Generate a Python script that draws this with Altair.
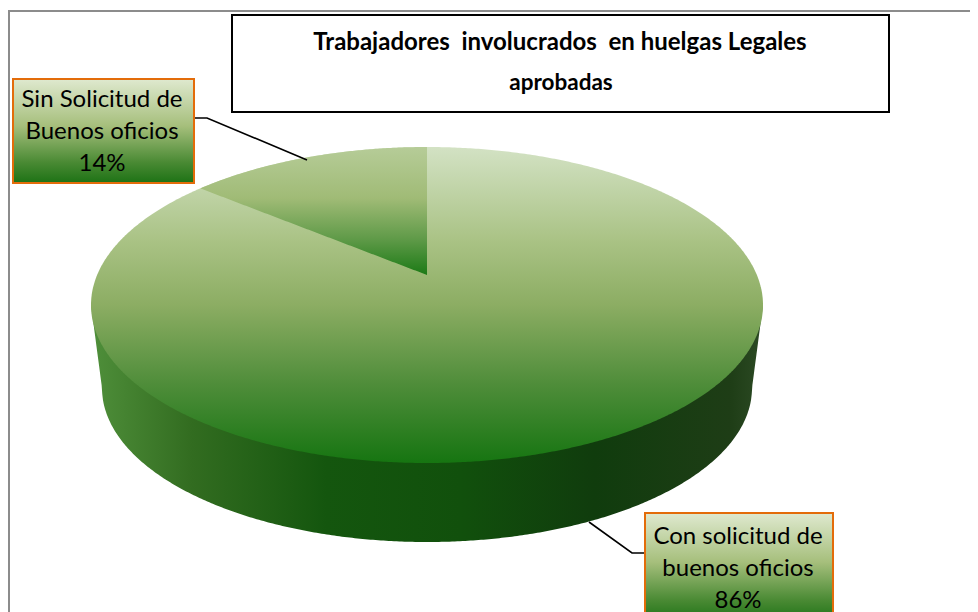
import numpy as np
import pandas as pd
import altair as alt

# Data
categories = ["Con solicitud de buenos oficios", "Sin Solicitud de Buenos oficios"]
shares = [86, 14]
title_line_1 = "Trabajadores\u00a0\u00a0involucrados\u00a0\u00a0en huelgas Legales"
title_line_2 = "aprobadas"
label_small = ["Sin Solicitud de", "Buenos oficios", "14%"]
label_big = ["Con solicitud de", "buenos oficios", "86%"]

# Pie geometry, in the scale's units
CX, CY, RX, RY = 427.0, 305.0, 336.0, 158.0
BOT_CY, BOT_RX, BOT_RY = 388.0, 325.0, 154.0
PERSP = 0.19

X = alt.X("x:Q", axis=None, scale=alt.Scale(domain=[8, 970], nice=False, zero=False))
Y = alt.Y("y:Q", axis=None, scale=alt.Scale(domain=[612, 8], nice=False, zero=False))


def grad(stops, horizontal=False):
    return alt.Gradient(
        gradient="linear",
        stops=[alt.GradientStop(offset=o, color=c) for o, c in stops],
        x1=0, y1=0, x2=1 if horizontal else 0, y2=0 if horizontal else 1,
    )


# Rim point of the small slice, from its share (circle seen in perspective)
a = 2 * np.pi * shares[1] / sum(shares)
ux, uy = -np.sin(a), np.cos(a)
den = 1 + PERSP * uy
rim_x = CX + RX * ux * np.sqrt(1 - PERSP**2) / den
rim_y = CY - RY * (uy + PERSP) / den
apex_y = CY - RY * PERSP

ts = np.linspace(np.pi, 0, 400)
xs = CX + RX * np.cos(ts)
root = np.sqrt(np.clip(1 - ((xs - CX) / RX) ** 2, 0, 1))
top_df = pd.DataFrame({"x": xs, "y": CY - RY * root, "y2": CY + RY * root})

# Side wall: lower ellipse joined to the top ellipse by short straight edges
bl, br = CX - BOT_RX, CX + BOT_RX
low = BOT_CY + BOT_RY * np.sqrt(np.clip(1 - ((xs - CX) / BOT_RX) ** 2, 0, 1))
low = np.where(xs < bl, CY + (xs - xs[0]) / (bl - xs[0]) * (BOT_CY - CY), low)
low = np.where(xs > br, CY + (xs[-1] - xs) / (xs[-1] - br) * (BOT_CY - CY), low)
wall_df = pd.DataFrame({"x": xs, "y": CY, "y2": low})

wx = np.linspace(rim_x, CX, 120)
wedge_df = pd.DataFrame({
    "x": wx,
    "y": CY - RY * np.sqrt(1 - ((wx - CX) / RX) ** 2),
    "y2": rim_y + (wx - rim_x) / (CX - rim_x) * (apex_y - rim_y),
})

wall = alt.Chart(wall_df).mark_area(color=grad([
    (0, "#4f8f3a"), (0.15, "#326c20"), (0.35, "#14560e"), (0.55, "#11500c"),
    (0.75, "#103c0d"), (0.95, "#1e3d16"), (1, "#2c4a24")], horizontal=True)
).encode(x=X, y=Y, y2="y2:Q")

top = alt.Chart(top_df).mark_area(color=grad([
    (0, "#d3e2c4"), (0.3, "#a9c284"), (0.5, "#8cad63"), (0.75, "#4f8d3a"), (1, "#167511")])
).encode(x=X, y=Y, y2="y2:Q")

wedge = alt.Chart(wedge_df).mark_area(color=grad([
    (0, "#b6cc98"), (0.4, "#a0bb76"), (0.72, "#5f9a48"), (1, "#1c7a16")])
).encode(x=X, y=Y, y2="y2:Q")


def box(x, x2, y, y2, stroke, width, fill):
    df = pd.DataFrame({"x": [x], "x2": [x2], "y": [y], "y2": [y2]})
    return alt.Chart(df).mark_rect(color=fill, stroke=stroke, strokeWidth=width).encode(
        x=X, x2="x2:Q", y=Y, y2="y2:Q")


def line(xs_, ys_, color="#000000", width=1.6):
    df = pd.DataFrame({"x": xs_, "y": ys_, "i": range(len(xs_))})
    return alt.Chart(df).mark_line(color=color, strokeWidth=width).encode(x=X, y=Y, order="i:Q")


def text(lines, x, ys_, size, weight="normal", font="Lato"):
    df = pd.DataFrame({"x": [x] * len(lines), "y": ys_, "t": lines})
    return alt.Chart(df).mark_text(font=font, fontSize=size, fontWeight=weight, color="#000000",
                                   align="center", baseline="middle").encode(x=X, y=Y, text="t:N")


label_fill = [(0, "#dfe9cf"), (0.45, "#a6bf7c"), (0.8, "#4a8a34"), (1, "#1d7215")]

chart = alt.layer(
    line([9, 9], [612, 11], "#8c8c8c", 2),
    line([8, 970], [11, 11], "#8c8c8c", 2),
    wall, top, wedge,
    box(232, 889, 15, 112, "#000000", 2, "#ffffff"),
    text([title_line_1], 560, [43], 24, "bold"),
    text([title_line_2], 561, [83], 22.5, "bold"),
    line([195, 207, 307], [118, 118, 160]),
    line([645, 632, 589], [553, 553, 522]),
    box(13, 194, 79, 183, "#e36c0a", 2, grad(label_fill)),
    text(label_small, 102, [100, 132, 164], 24),
    box(645, 833, 513, 622, "#e36c0a", 2, grad(label_fill)),
    text(label_big, 738, [537, 569, 601], 24),
).properties(
    width=962, height=604, padding=0, background="#ffffff",
    autosize=alt.AutoSizeParams(type="none"),
).configure_view(stroke=None)

chart.save("out.html", embed_options={"renderer": "svg", "actions": False})
